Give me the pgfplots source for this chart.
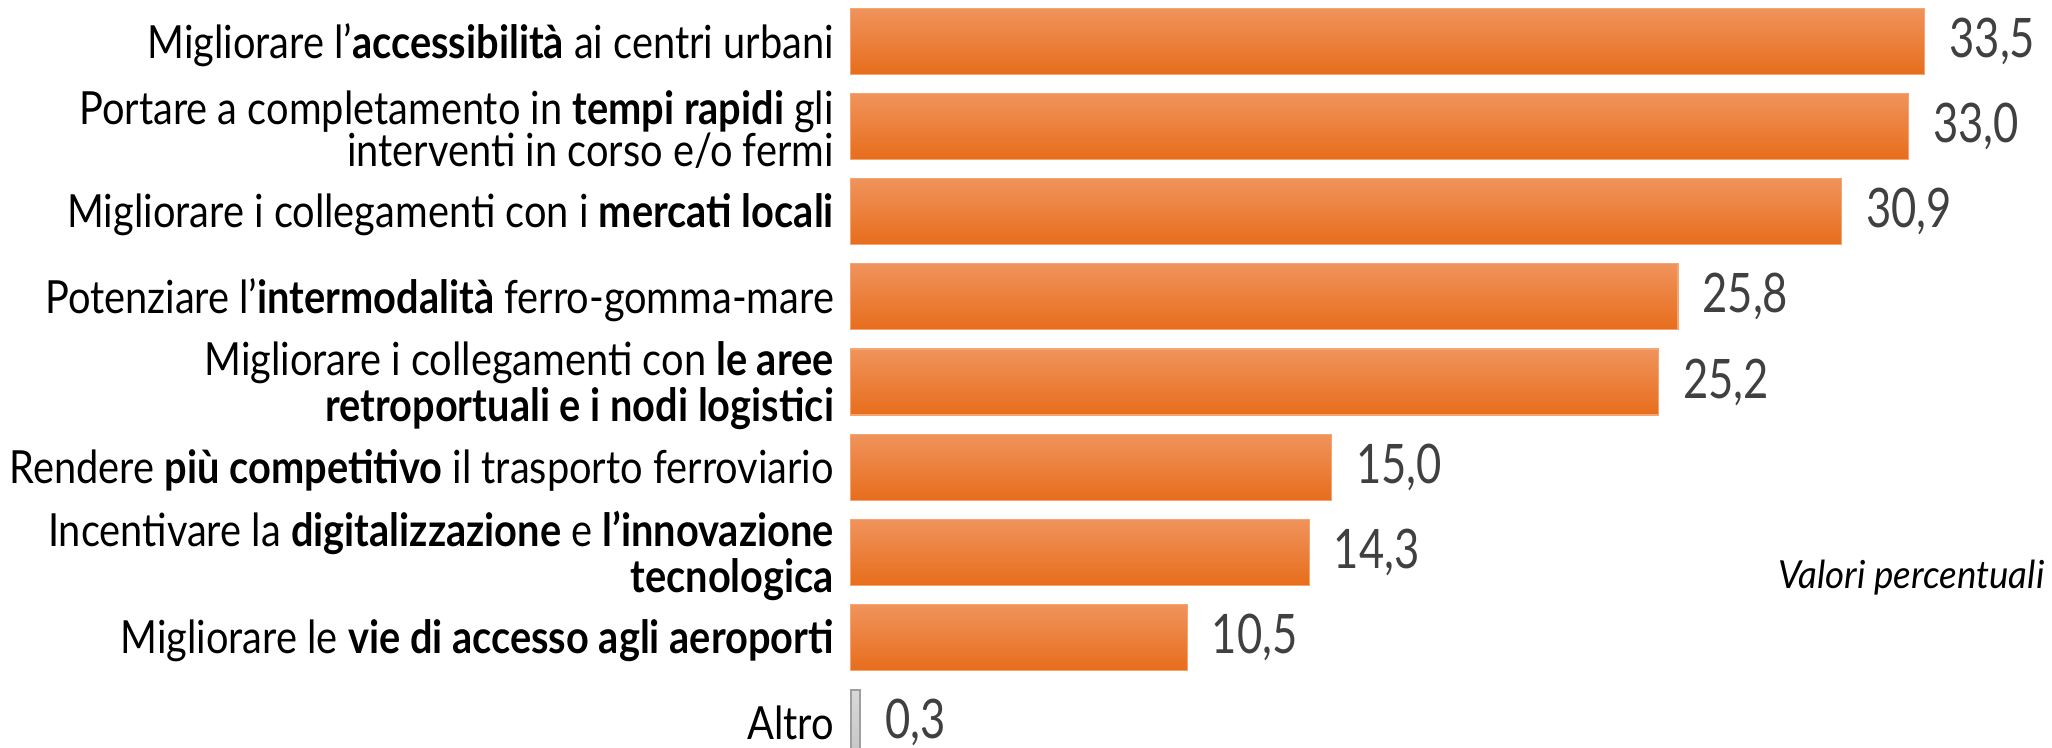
\documentclass[border=0pt]{standalone}
\usepackage{fontspec}
\usepackage{pgfplots}
\pgfplotsset{compat=1.18}
\setmainfont{Lato}
\newfontfamily\labelfont{Lato}[FakeStretch=0.87]
\newfontfamily\numfont{Lato}[FakeStretch=0.8]
\newfontfamily\notefont{Lato}[FakeStretch=0.95]
\definecolor{barTop}{HTML}{F0935C}
\definecolor{barMid}{HTML}{F47D2A}
\definecolor{barBot}{HTML}{E76D1B}
\definecolor{barEdge}{HTML}{F5A570}
\definecolor{numgray}{HTML}{404040}
\pgfplotsset{orangebar/.style={draw=barEdge, line width=0.3pt,
    top color=barTop, middle color=barMid, bottom color=barBot}}
\begin{document}
\begin{tikzpicture}
\begin{axis}[
    at={(85.06mm,0)}, anchor=north west,
    scale only axis,
    x=3.207mm, y=8.52mm,
    xmin=0, xmax=37,
    ymin=-0.5, ymax=8.5,
    y dir=reverse,
    clip=false,
    axis line style={draw=none},
    tick style={draw=none},
    xtick=\empty,
    ytick={0,1,2,3,4,5,6,7,8},
    yticklabels={
        {Migliorare l’\textbf{accessibilità} ai centri urbani},
        {Portare a completamento in \textbf{tempi rapidi} gli\\interventi in corso e/o fermi},
        {Migliorare i collegamenti con i \textbf{mercati locali}},
        {Potenziare l’\textbf{intermodalità} ferro-gomma-mare},
        {Migliorare i collegamenti con \textbf{le aree}\\\textbf{retroportuali e i nodi logistici}},
        {Rendere \textbf{più competitivo} il trasporto ferroviario},
        {Incentivare la \textbf{digitalizzazione} e \textbf{l’innovazione}\\\textbf{tecnologica}},
        {Migliorare le \textbf{vie di accesso agli aeroporti}},
        {\raisebox{0.7mm}{Altro}}
    },
    yticklabel style={align=right, inner sep=0pt, xshift=-0.1mm, yshift=-0.35mm,
        font=\labelfont\fontsize{13}{11.95}\selectfont},
    xbar, bar width=6.6mm, bar shift=0pt,
    nodes near coords={\pgfmathprintnumber[fixed,fixed zerofill,precision=1,use comma,assume math mode=true]{\pgfplotspointmeta}},
    nodes near coords style={anchor=west, inner sep=0pt, xshift=2.4mm,
        font=\numfont\fontsize{15.5}{15.5}\selectfont, text=numgray},
]
% one plot per bar so that each bar gets its own gradient
\addplot[orangebar] coordinates {(33.5,0)};
\addplot[orangebar] coordinates {(33.0,1)};
\addplot[orangebar] coordinates {(30.9,2)};
\addplot[orangebar] coordinates {(25.8,3)};
\addplot[orangebar] coordinates {(25.2,4)};
\addplot[orangebar] coordinates {(15.0,5)};
\addplot[orangebar] coordinates {(14.3,6)};
\addplot[orangebar] coordinates {(10.5,7)};
\addplot[draw=gray!75, line width=0.6pt, top color=gray!30, bottom color=gray!45]
    coordinates {(0.3,8)};
\end{axis}
\node[anchor=east, inner sep=0pt, font=\notefont\itshape\fontsize{11}{11}\selectfont] at (204.5mm,-57.9mm) {Valori percentuali};
\pgfresetboundingbox
\path[use as bounding box] (0,-0.14mm) rectangle (205.2mm,-74.84mm);
\end{tikzpicture}
\end{document}
